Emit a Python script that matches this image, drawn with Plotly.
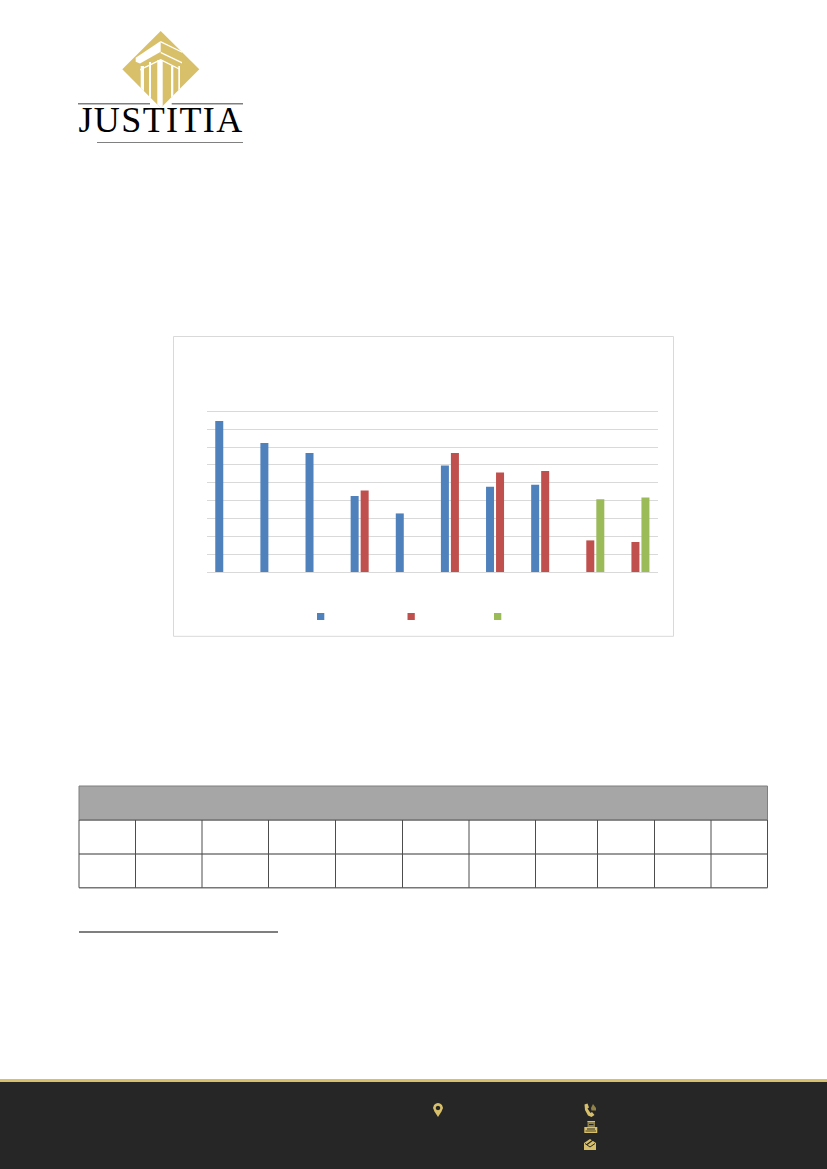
import plotly.graph_objects as go

W, H = 827, 1169
categories = ["1", "2", "3", "4", "5", "6", "7", "8", "9", "10"]
series_a = [84.5, 72.2, 66.7, 42.6, 32.8, 59.6, 47.7, 48.8, None, None]
series_b = [None, None, None, 45.6, None, 66.7, 55.7, 56.6, 17.7, 16.8]
series_c = [None, None, None, None, None, None, None, None, 40.8, 41.7]
y_ticks = [0, 10, 20, 30, 40, 50, 60, 70, 80, 90]

BLUE, RED, GREEN = "#4f81bd", "#c0504d", "#9bbb59"
GOLD, DARK, GRID = "#d8c06b", "#262626", "#d9d9d9"
DIM = "#8f8148"


def px(x):
    return x / W


def py(y):
    return 1 - y / H


def rect(x0, y0, x1, y1, fill=None, line=None, lw=1, layer="below"):
    return dict(type="rect", xref="paper", yref="paper", x0=px(x0), x1=px(x1), y0=py(y0), y1=py(y1),
                fillcolor=fill or "rgba(0,0,0,0)", line=dict(color=line or "rgba(0,0,0,0)", width=lw if line else 0),
                layer=layer)


def seg(x0, y0, x1, y1, color, lw=1, layer="below"):
    return dict(type="line", xref="paper", yref="paper", x0=px(x0), x1=px(x1), y0=py(y0), y1=py(y1),
                line=dict(color=color, width=lw), layer=layer)


def poly(points, fill, layer="above"):
    d = "M" + " L".join(f"{px(x):.5f},{py(y):.5f}" for x, y in points) + " Z"
    return dict(type="path", xref="paper", yref="paper", path=d, fillcolor=fill, line=dict(width=0), layer=layer)


shapes = []
# chart frame
shapes.append(rect(173.5, 336.5, 673.5, 636.3, fill="white", line=GRID, lw=1))
# legend swatches
for x, c in zip([317, 407.5, 494], [BLUE, RED, GREEN]):
    shapes.append(rect(x, 613, x + 7.3, 620, fill=c))

# table
TL, TR, TY = 79, 767.5, [786, 820, 854, 887.7]
cols = [135.5, 202, 268.5, 335.5, 402.5, 469, 535.5, 597.5, 654.5, 711]
shapes.append(rect(TL, TY[0], TR, TY[1], fill="#a6a6a6", line="#7f7f7f", lw=1))
for y in TY[1:]:
    shapes.append(seg(TL, y, TR, y, "#777777", 1.5))
for x in [TL] + cols + [TR]:
    shapes.append(seg(x, TY[1], x, TY[3], "#4d4d4d", 1))
# footnote rule
shapes.append(seg(79, 932, 278, 932, "#555555", 1.5))

# footer
shapes.append(rect(0, 1082, W, H, fill=DARK))
shapes.append(rect(0, 1079, W, 1082, fill=GOLD))
# pin
shapes.append(poly([(438, 1117), (434.5, 1111.5), (433, 1108), (434, 1105), (436, 1103.5), (438, 1103), (440, 1103.5),
                    (442, 1105), (443, 1108), (441.5, 1111.5)], GOLD))
shapes.append(poly([(438, 1105.8), (439.8, 1106.6), (440.3, 1108), (439.8, 1109.5), (438, 1110.2), (436.2, 1109.5),
                    (435.7, 1108), (436.2, 1106.6)], DARK))
# phone
shapes.append(poly([(584.5, 1104.5), (587.5, 1103.5), (589, 1107.5), (587.5, 1108.5), (590.5, 1113), (592, 1112),
                    (594.5, 1115), (591.5, 1117), (588, 1115.5), (585, 1110)], GOLD))
shapes.append(poly([(591, 1108), (593, 1104), (596, 1108), (596, 1110.5), (591.5, 1110.5)], DIM))
# fax
shapes.append(poly([(587.5, 1121), (595, 1121), (595, 1128), (587.5, 1128)], DIM))
shapes.append(seg(587.5, 1121.5, 595, 1121.5, GOLD, 1, "above"))
shapes.append(poly([(584.3, 1127), (597.3, 1127), (597.3, 1133), (584.3, 1133)], GOLD))
shapes.append(poly([(585.5, 1130), (596, 1130), (596, 1132), (585.5, 1132)], DIM))
shapes.append(seg(589, 1124.5, 593.5, 1124.5, DARK, 1, "above"))
shapes.append(seg(587, 1129, 595, 1129, DARK, 1, "above"))
# mail
shapes.append(poly([(584, 1143), (590, 1139), (596, 1143), (596, 1150), (584, 1150)], GOLD))
shapes.append(seg(585, 1143.5, 590, 1147, DARK, 1, "above"))
shapes.append(seg(590, 1147, 595, 1143.5, DARK, 1, "above"))
shapes.append(seg(593, 1140, 587, 1144.5, DARK, 1.2, "above"))

# logo
DX0, DXC, DX1, DYT, DYM, DYB = 122.3, 160.7, 199.3, 31, 69.3, 108
shapes.append(poly([(DXC, DYT), (DX1, DYM), (DXC, DYB), (DX0, DYM)], GOLD))
# capital: left face and right-hand lines
shapes.append(poly([(135.7, 57.7), (160.7, 41), (160.7, 51.7), (140, 63.4), (135.7, 61.7)], "white"))
shapes.append(poly([(160.7, 41), (182, 51.5), (182, 52.7), (160.7, 42.4)], "white"))
shapes.append(poly([(160.7, 51.7), (182, 62), (182, 63.4), (160.7, 53.2)], "white"))
shapes.append(poly([(140, 69), (160.7, 59), (180, 68.8), (180, 70), (160.7, 60.6), (140, 70.4)], "white"))


def edge(x):
    return DYB - abs(x - DXC) * 1.0


for x0, x1 in [(140.7, 144), (149, 151), (157.3, 162.7), (171, 173.3), (178.3, 180)]:
    top = 66 if x1 < 150 else 62 if x1 < 155 else 60 if x1 < 170 else 66
    pts = [(x0, top), (x1, top), (x1, edge(x1)), (x0, edge(x0))]
    if x0 < DXC < x1:
        pts = [(x0, top), (x1, top), (x1, edge(x1)), (DXC, DYB), (x0, edge(x0))]
    shapes.append(poly(pts, "white"))
shapes.append(seg(78, 103.7, 150, 103.7, "#808080", 1.5))
shapes.append(seg(171.7, 103.7, 243, 103.7, "#808080", 1.5))
shapes.append(seg(97, 142.5, 243, 142.5, "#808080", 1))

fig = go.Figure()
for name, vals, col in zip(["A", "B", "C"], [series_a, series_b, series_c], [BLUE, RED, GREEN]):
    fig.add_bar(x=categories, y=vals, name=name, marker=dict(color=col, line=dict(width=0)), showlegend=False)

fig.update_layout(
    width=W, height=H, autosize=False, margin=dict(l=0, r=0, t=0, b=0),
    paper_bgcolor="white", plot_bgcolor="rgba(0,0,0,0)",
    barmode="group", bargap=0.335, bargroupgap=0.2,
    shapes=shapes,
    xaxis=dict(domain=[px(206.7), px(658)], showticklabels=False, ticks="", showgrid=False, showline=True,
               linecolor=GRID, linewidth=1, zeroline=False, type="category"),
    yaxis=dict(domain=[py(572), py(409.5)], range=[0, 91], tickvals=y_ticks, showticklabels=False, ticks="",
               gridcolor=GRID, gridwidth=1, zeroline=False, showline=False),
    annotations=[dict(text="JUSTITIA", xref="paper", yref="paper", x=px(161), y=py(135), xanchor="center",
                      yanchor="bottom", yshift=-7, showarrow=False,
                      font=dict(family="Liberation Serif", size=36, color="#000000"))],
)
post = """
document.body.style.margin='0';
document.querySelectorAll('.annotation-text').forEach(function(t){t.style.letterSpacing='1.4px';});
"""
fig.write_html("out.html", post_script=post, config={"displayModeBar": False})
